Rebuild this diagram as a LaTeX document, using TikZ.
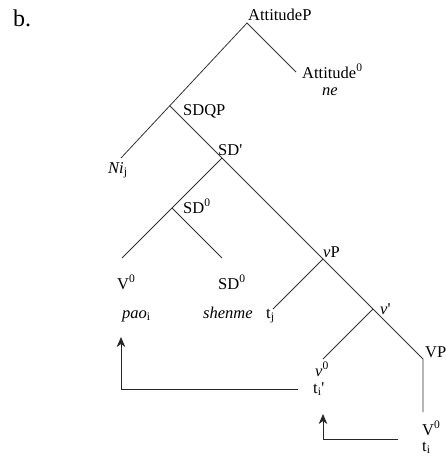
\documentclass[tikz,border=0pt]{standalone}
\usepackage{fontspec}
\setmainfont[Ligatures=TeXOff]{Liberation Serif}
\usetikzlibrary{arrows.meta}
\begin{document}
\begin{tikzpicture}[x=1pt,y=-1pt,
  branch/.style={draw=black!80,line width=0.8pt},
  mover/.style={draw=black!85,line width=0.8pt,-{Stealth[length=10pt,width=8.5pt,inset=3pt]}},
  lbl/.style={anchor=base west,inner sep=0pt,font=\fontsize{16.5}{19}\selectfont}]
\useasboundingbox (0,0) rectangle (446,456);
% tree points
\coordinate (ap) at (247,23);
\coordinate (att) at (296,72);
\coordinate (ni) at (121,158);
\coordinate (sdqp) at (170,106);
\coordinate (sdbar) at (222,158);
\coordinate (sdz) at (172,208);
\coordinate (vz) at (122,258);
\coordinate (sdzb) at (222,258);
\coordinate (vp) at (323,259);
\coordinate (tj) at (273,309);
\coordinate (vbar) at (373,309);
\coordinate (vzero) at (323,359);
\coordinate (bigvp) at (423,359);
\coordinate (bigvz) at (423,412);
% arrow points
\coordinate (a1s) at (298,389);
\coordinate (a1c) at (121,389);
\coordinate (a1e) at (121,337);
\coordinate (a2s) at (398,439);
\coordinate (a2c) at (323,439);
\coordinate (a2e) at (323,414);
% branches
\draw[branch] (ni) -- (ap) -- (att);
\draw[branch] (sdqp) -- (sdbar) -- (vp) -- (vbar) -- (bigvp) -- (bigvz);
\draw[branch] (vz) -- (sdz) -- (sdbar);
\draw[branch] (sdz) -- (sdzb);
\draw[branch] (tj) -- (vp);
\draw[branch] (vzero) -- (vbar);
% movement arrows
\draw[mover] (a1s) -- (a1c) -- (a1e);
\draw[mover] (a2s) -- (a2c) -- (a2e);
% labels
\node[anchor=base west,inner sep=0pt,font=\fontsize{24}{28}\selectfont] (b) at (13,26) {b.};
\node[lbl] (lAP) at (248,20) {AttitudeP};
\node[lbl] (lA0) at (302,78) {Attitude\textsuperscript{0}};
\node[lbl] (lne) at (322,95) {\textit{ne}};
\node[lbl] (lSDQP) at (183,115) {SDQP};
\node[lbl] (lSDb) at (218,155) {SD'};
\node[lbl] (lNi) at (108,173) {\textit{Ni}\textsubscript{j}};
\node[lbl] (lSD0a) at (183,213) {SD\textsuperscript{0}};
\node[lbl] (lV0a) at (117,289) {V\textsuperscript{0}};
\node[lbl] (lSD0b) at (218,289) {SD\textsuperscript{0}};
\node[lbl] (lpao) at (122,318) {\textit{pao}\textsubscript{i}};
\node[lbl] (lshen) at (203,318) {\textit{shenme}};
\node[lbl] (ltj) at (266,318) {t\textsubscript{j}};
\node[lbl] (lvP) at (323,257) {\textit{v}P};
\node[lbl] (lvb) at (380,314) {\textit{v}'};
\node[lbl] (lVP) at (425,357) {VP};
\node[lbl] (lv0) at (315,376) {\textit{v}\textsuperscript{0}};
\node[lbl] (lti1) at (313,393) {t\textsubscript{i}'};
\node[lbl] (lV0b) at (422,435) {V\textsuperscript{0}};
\node[lbl] (lti) at (422,451) {t\textsubscript{i}};
\end{tikzpicture}
\end{document}
